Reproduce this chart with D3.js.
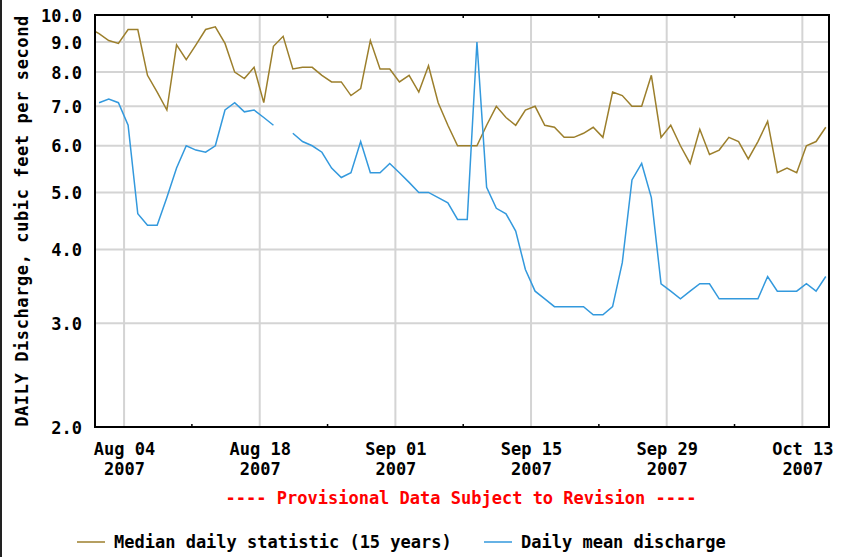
<!DOCTYPE html>
<html>
<head>
<meta charset="utf-8">
<script src="https://cdn.jsdelivr.net/npm/d3@7"></script>
<style>
  body { margin: 0; background: #fff; }
  text { font-family: "DejaVu Sans Mono", monospace; font-weight: bold; }
</style>
</head>
<body>
<div id="hydrograph"></div>
<script>
// one value per day, Jul 31 .. Oct 15 2007
var medianCfs = [9.5,
  9.3, 9.05, 8.95, 9.45, 9.45, 7.9, 7.4, 6.9, 8.9, 8.4,
  8.9, 9.45, 9.55, 8.95, 8.0, 7.8, 8.15, 7.1, 8.85, 9.2,
  8.1, 8.15, 8.15, 7.9, 7.7, 7.7, 7.3, 7.5, 9.05, 8.1,
  8.1, 7.7, 7.9, 7.4, 8.2, 7.1, 6.5, 6.0, 6.0, 6.0,
  6.5, 7.0, 6.7, 6.5, 6.9, 7.0, 6.5, 6.45, 6.2, 6.2,
  6.3, 6.45, 6.2, 7.4, 7.3, 7.0, 7.0, 7.9, 6.2, 6.5,
  6.0, 5.6, 6.4, 5.8, 5.9, 6.2, 6.1, 5.7, 6.1, 6.6,
  5.4, 5.5, 5.4, 6.0, 6.1, 6.45];
var meanCfs = [null,
  7.1, 7.2, 7.1, 6.5, 4.6, 4.4, 4.4, 4.9, 5.5, 6.0,
  5.9, 5.85, 6.0, 6.9, 7.1, 6.85, 6.9, 6.7, 6.5, null,
  6.3, 6.1, 6.0, 5.85, 5.5, 5.3, 5.4, 6.1, 5.4, 5.4,
  5.6, 5.4, 5.2, 5.0, 5.0, 4.9, 4.8, 4.5, 4.5, 9.0,
  5.1, 4.7, 4.6, 4.3, 3.7, 3.4, 3.3, 3.2, 3.2, 3.2,
  3.2, 3.1, 3.1, 3.2, 3.8, 5.25, 5.6, 4.9, 3.5, 3.4,
  3.3, 3.4, 3.5, 3.5, 3.3, 3.3, 3.3, 3.3, 3.3, 3.6,
  3.4, 3.4, 3.4, 3.5, 3.4, 3.6];
var days = d3.timeDay.range(new Date(2007, 6, 31), new Date(2007, 9, 16));
var yTicks = [2, 3, 4, 5, 6, 7, 8, 9, 10];
var labelDays = ["2007-08-04", "2007-08-18", "2007-09-01", "2007-09-15", "2007-09-29", "2007-10-13"];
var weekDays = ["2007-08-11", "2007-08-25", "2007-09-08", "2007-09-22", "2007-10-06"];
var seriesNames = ["Median daily statistic (15 years)", "Daily mean discharge"];
var seriesColors = ["#9c7f2c", "#3399dd"];

var parseDay = d3.timeParse("%Y-%m-%d");

var svg = d3.select("#hydrograph")
            .append("svg")
            .attr("width", 842)
            .attr("height", 557);
var margin = {top: 15, right: 13, bottom: 130, left: 95},
    width = 842 - margin.left - margin.right,
    height = 557 - margin.top - margin.bottom;

var x = d3.scaleTime()
          .domain([new Date(2007, 7, 1), new Date(2007, 9, 15, 18)])
          .range([margin.left, margin.left + width]);
var y = d3.scaleLog()
          .domain([2, 10])
          .range([margin.top + height, margin.top]);

// points sit a little after midnight of their day
var at = function(d) { return x(d3.timeHour.offset(d, 10)); };

svg.append("rect")
   .attr("x", 0).attr("y", 0)
   .attr("width", 2).attr("height", 557)
   .style("fill", "#222");

svg.append("clipPath").attr("id", "plotClip")
   .append("rect")
   .attr("x", margin.left).attr("y", margin.top)
   .attr("width", width).attr("height", height);

// grid
svg.append("g")
   .selectAll("line")
   .data(yTicks.slice(1, -1))
   .enter().append("line")
   .attr("x1", margin.left).attr("x2", margin.left + width)
   .attr("y1", function(d) { return y(d); })
   .attr("y2", function(d) { return y(d); })
   .style("stroke", "#d4d4d4")
   .style("stroke-width", 2);

svg.append("g")
   .selectAll("line")
   .data(labelDays.map(parseDay))
   .enter().append("line")
   .attr("x1", function(d) { return x(d); })
   .attr("x2", function(d) { return x(d); })
   .attr("y1", margin.top).attr("y2", margin.top + height)
   .style("stroke", "#d4d4d4")
   .style("stroke-width", 2);

// weekly ticks top and bottom
var weeks = svg.append("g");
weekDays.map(parseDay).forEach(function(d) {
  weeks.append("line")
       .attr("x1", x(d)).attr("x2", x(d))
       .attr("y1", margin.top).attr("y2", margin.top + 3)
       .style("stroke", "#000").style("stroke-width", 1.5);
  weeks.append("line")
       .attr("x1", x(d)).attr("x2", x(d))
       .attr("y1", margin.top + height - 3).attr("y2", margin.top + height)
       .style("stroke", "#000").style("stroke-width", 1.5);
});

// data lines
var series = [medianCfs, meanCfs];
series.forEach(function(vals, i) {
  var line = d3.line()
               .defined(function(d) { return d.v != null; })
               .x(function(d) { return at(d.day); })
               .y(function(d) { return y(d.v); });
  svg.append("path")
     .datum(days.map(function(day, k) { return {day: day, v: vals[k]}; }))
     .attr("clip-path", "url(#plotClip)")
     .attr("d", line)
     .style("fill", "none")
     .style("stroke", seriesColors[i])
     .style("stroke-width", 1.5);
});

svg.append("rect")
   .attr("x", margin.left).attr("y", margin.top)
   .attr("width", width).attr("height", height)
   .style("fill", "none")
   .style("stroke", "#000")
   .style("stroke-width", 2);

// y axis
var yAxis = svg.append("g")
   .attr("transform", "translate(" + (margin.left - 13) + ",0)")
   .call(d3.axisLeft(y).tickValues(yTicks).tickFormat(d3.format(".1f")).tickSize(0).tickPadding(0));
yAxis.select(".domain").remove();
yAxis.selectAll("text")
     .style("font-size", "17px")
     .style("font-family", "DejaVu Sans Mono")
     .style("font-weight", "bold")
     .attr("dy", "0.36em")
     .attr("fill", "#000");

// x axis, two line labels
var xAxis = svg.append("g")
   .attr("transform", "translate(0," + (margin.top + height) + ")")
   .call(d3.axisBottom(x).tickValues(labelDays.map(parseDay)).tickFormat("").tickSize(0));
xAxis.select(".domain").remove();
xAxis.selectAll(".tick").each(function(d) {
  var t = d3.select(this).append("text")
            .attr("fill", "#000")
            .attr("text-anchor", "middle")
            .style("font-size", "17px");
  t.append("tspan").attr("x", 0).attr("y", 28).text(d3.timeFormat("%b %d")(d));
  t.append("tspan").attr("x", 0).attr("y", 48).text(d3.timeFormat("%Y")(d));
});

svg.append("text")
   .attr("transform", "translate(28," + (margin.top + height / 2) + ") rotate(-90)")
   .attr("text-anchor", "middle")
   .style("font-size", "17px")
   .style("letter-spacing", "0.6px")
   .text("DAILY Discharge, cubic feet per second");

svg.append("text")
   .attr("x", 461)
   .attr("y", 504)
   .attr("text-anchor", "middle")
   .style("font-size", "17px")
   .style("fill", "#ff0000")
   .text("---- Provisional Data Subject to Revision ----");

// legend
var legendX = [77, 484];
seriesNames.forEach(function(name, i) {
  svg.append("line")
     .attr("x1", legendX[i]).attr("x2", legendX[i] + 28)
     .attr("y1", 542).attr("y2", 542)
     .style("stroke", seriesColors[i])
     .style("stroke-width", 1.5);
  svg.append("text")
     .attr("x", legendX[i] + 37)
     .attr("y", 548)
     .style("font-size", "17px")
     .text(name);
});
</script>
</body>
</html>
